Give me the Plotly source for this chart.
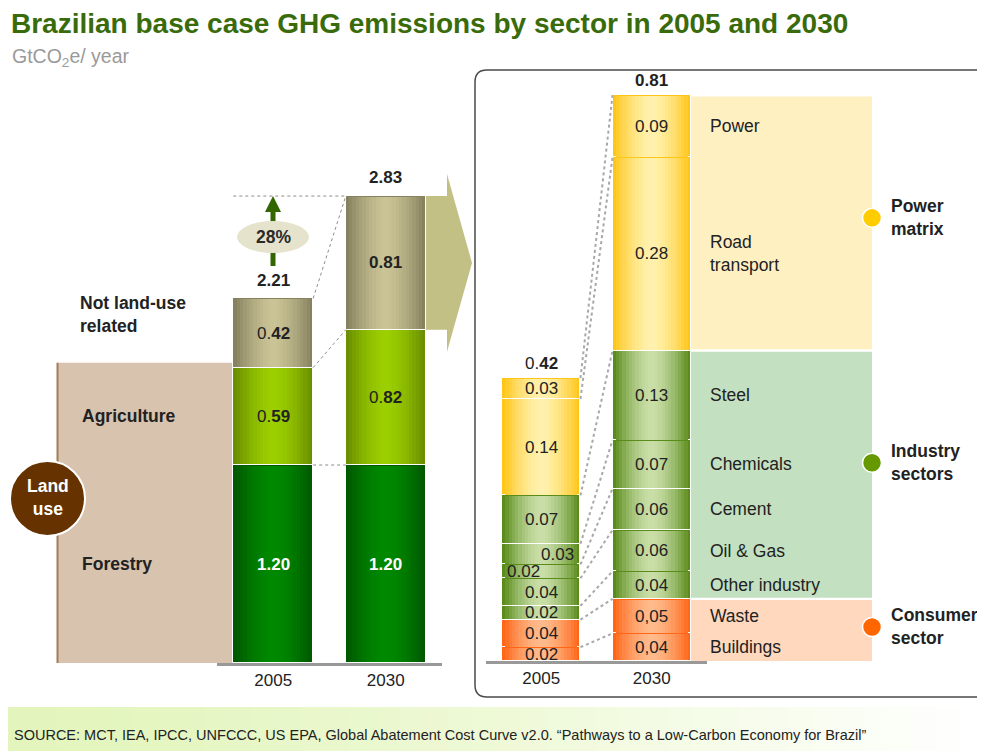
import plotly.graph_objects as go

# The page body has an 8px margin, so the figure is laid out in reference
# pixel coordinates shifted by that offset.
W, H = 985, 751
OX, OY = 8, 8
FW, FH = W - OX, H - OY

# ---------------- data ----------------
years = ["2005", "2030"]

left_segments = ["Forestry", "Agriculture", "Not land-use related"]
left_2005 = [1.20, 0.59, 0.42]
left_2030 = [1.20, 0.82, 0.81]
left_labels_2005 = ["<b>1.20</b>", "0.<b>59</b>", "0.<b>42</b>"]
left_labels_2030 = ["<b>1.20</b>", "0.<b>82</b>", "<b>0.81</b>"]
left_total_labels = ["2.21", "2.83"]
growth_label = "28%"

right_sectors = ["Buildings", "Waste", "Other industry", "Oil & Gas", "Cement",
                 "Chemicals", "Steel", "Road<br>transport", "Power"]
right_groups = ["Consumer", "Consumer", "Industry", "Industry", "Industry",
                "Industry", "Industry", "Power", "Power"]
right_2005 = [0.02, 0.04, 0.02, 0.04, 0.02, 0.03, 0.07, 0.14, 0.03]
right_2030 = [0.04, 0.05, 0.04, 0.06, 0.06, 0.07, 0.13, 0.28, 0.09]
right_labels_2005 = ["0.02", "0.04", "0.02", "0.04", "0.02", "0.03", "0.07", "0.14", "0.03"]
right_labels_2030 = ["0,04", "0,05", "0.04", "0.06", "0.06", "0.07", "0.13", "0.28", "0.09"]
right_total_labels = ["0.<b>42</b>", "<b>0.81</b>"]
group_names = ["Consumer", "Industry", "Power"]
group_titles = ["Consumer<br>sector", "Industry<br>sectors", "Power<br>matrix"]

title_text = "Brazilian base case GHG emissions by sector in 2005 and 2030"
unit_text = "GtCO<sub>2</sub>e/ year"
land_use_text = "Land<br>use"
source_text = ("SOURCE: MCT, IEA, IPCC, UNFCCC, US EPA, Global Abatement Cost Curve v2.0. "
               "\u201cPathways to a Low-Carbon Economy for Brazil\u201d")

# ---------------- styles ----------------
FONT = "Liberation Sans, Arial, sans-serif"
TXT = "#222222"
LEFT_COLORS = {"Forestry": ("#005800", "#008A00"),
               "Agriculture": ("#6A8F00", "#9DD000"),
               "Not land-use related": ("#86815F", "#CBC496")}
GROUP_COLORS = {"Power": ("#FFC61A", "#FFF2B0"),
                "Industry": ("#5A8C1C", "#CBE0AA"),
                "Consumer": ("#FF6618", "#FFBC8E")}
BAND_COLORS = {"Power": "#FFF0C2", "Industry": "#C3E0C0", "Consumer": "#FFD8BE"}
DOT_COLORS = {"Power": "#FFCC00", "Industry": "#669900", "Consumer": "#FF6600"}
GROUP_YSHIFT_PX = {"Power": 5, "Industry": 12, "Consumer": 3}
LABEL_XSHIFT_2005 = {4: -18, 5: 16}

L_BASE, L_SCALE, L_TOP = 663, 165.0, 150
R_BASE, R_SCALE, R_TOP = 661, 690.0, 70
BW = 0.71
NUM = 17
LBL = 17.5


def px(x):
    return (x - OX) / FW


def py(y):
    return 1 - (y - OY) / FH


def hex2rgb(h):
    h = h.lstrip("#")
    return tuple(int(h[i:i + 2], 16) for i in (0, 2, 4))


def mix(c1, c2, t):
    a, b = hex2rgb(c1), hex2rgb(c2)
    return "rgb(%d,%d,%d)" % tuple(round(a[i] + (b[i] - a[i]) * t) for i in range(3))


def cumbase(vals):
    out, s = [], 0.0
    for v in vals:
        out.append(s)
        s += v
    return out


fig = go.Figure()


def add_gradient_bars(xs, bases, vals, cols, xa, ya, eps, n=12):
    for k in range(n):
        w = 1 - k / n
        t = 1 - w ** 1.6
        colors = [mix(c[0], c[1], t) for c in cols]
        inset = 0 if k == 0 else eps
        fig.add_trace(go.Bar(
            x=xs, y=[v - 2 * inset for v in vals], base=[b + inset for b in bases],
            width=BW * w,
            marker=dict(color=colors, line=dict(color="white", width=1 if k == 0 else 0)),
            xaxis=xa, yaxis=ya, hoverinfo="skip", showlegend=False))


# ---- left chart bars ----
lb05, lb30 = cumbase(left_2005), cumbase(left_2030)
add_gradient_bars([0] * 3 + [1] * 3, lb05 + lb30, left_2005 + left_2030,
                  [LEFT_COLORS[s] for s in left_segments] * 2, "x", "y", 0.6 / L_SCALE)

# ---- right chart bars ----
rb05, rb30 = cumbase(right_2005), cumbase(right_2030)
add_gradient_bars([0] * 9 + [1] * 9, rb05 + rb30, right_2005 + right_2030,
                  [GROUP_COLORS[g] for g in right_groups] * 2, "x2", "y2", 0.6 / R_SCALE)

# ---- connector lines (left) ----
l_tops05 = [b + v for b, v in zip(lb05, left_2005)]
l_tops30 = [b + v for b, v in zip(lb30, left_2030)]
for a, b in zip(l_tops05, l_tops30):
    fig.add_trace(go.Scatter(x=[BW / 2, 1 - BW / 2], y=[a, b], mode="lines",
                             line=dict(color="#8C8C8C", width=1, dash="dot"),
                             xaxis="x", yaxis="y", hoverinfo="skip", showlegend=False))
fig.add_trace(go.Scatter(x=[-BW / 2, 1 - BW / 2], y=[l_tops30[-1]] * 2, mode="lines",
                         line=dict(color="#8C8C8C", width=1, dash="dot"),
                         xaxis="x", yaxis="y", hoverinfo="skip", showlegend=False))

# ---- connector lines (right) ----
r_tops05 = [b + v for b, v in zip(rb05, right_2005)]
r_tops30 = [b + v for b, v in zip(rb30, right_2030)]
for a, b in zip(r_tops05, r_tops30):
    fig.add_trace(go.Scatter(x=[BW / 2, 1 - BW / 2], y=[a, b], mode="lines",
                             line=dict(color="#A8A8A8", width=2, dash="dot"),
                             xaxis="x2", yaxis="y2", hoverinfo="skip", showlegend=False))

shapes = []
annotations = []


def ann(text, x, y, xref="paper", yref="paper", size=16, color=TXT, xanchor="center",
        yanchor="middle", align="center", xshift=0, yshift=0):
    annotations.append(dict(text=text, x=x, y=y, xref=xref, yref=yref, showarrow=False,
                            font=dict(family=FONT, size=size, color=color),
                            xanchor=xanchor, yanchor=yanchor, align=align,
                            xshift=xshift, yshift=yshift))


# footer gradient band
NSTRIP = 40
for i in range(NSTRIP):
    xa = OX + (W - OX) * i / NSTRIP
    xb = OX + (W - OX) * (i + 1) / NSTRIP + 1
    shapes.append(dict(type="rect", xref="paper", yref="paper",
                       x0=px(xa), x1=px(xb), y0=py(751), y1=py(707), line=dict(width=0),
                       fillcolor=mix("#E3F5BC", "#FFFFFF", (i / (NSTRIP - 1)) ** 1.3),
                       layer="below"))

# rounded frame of the right panel
r = 12
x0, y0, y1 = 475, 70, 697
path = (f"M {px(W + 10)},{py(y0)} L {px(x0 + r)},{py(y0)} Q {px(x0)},{py(y0)} {px(x0)},{py(y0 + r)} "
        f"L {px(x0)},{py(y1 - r)} Q {px(x0)},{py(y1)} {px(x0 + r)},{py(y1)} L {px(W + 10)},{py(y1)}")
shapes.append(dict(type="path", path=path, xref="paper", yref="paper",
                   line=dict(color="#4A4A4A", width=1.5), layer="below"))

# land-use background
land_top = sum(left_2005[:2]) + 0.03
shapes.append(dict(type="rect", xref="paper", yref="y", x0=px(57), x1=px(233),
                   y0=0, y1=land_top, fillcolor="#D8C3AF", line=dict(width=0), layer="below"))
shapes.append(dict(type="line", xref="paper", yref="y", x0=px(57.5), x1=px(57.5),
                   y0=0, y1=land_top, line=dict(color="#A47C58", width=2), layer="below"))

# chevron arrow
top30, bot30 = l_tops30[-1], lb30[-1]
ext = 22 / L_SCALE
mid = (top30 + bot30) / 2
chev = (f"M {px(426)},{bot30} L {px(426)},{top30} L {px(447)},{top30} L {px(447)},{top30 + ext} "
        f"L {px(472)},{mid} L {px(447)},{bot30 - ext} L {px(447)},{bot30} Z")
shapes.append(dict(type="path", path=chev, xref="paper", yref="y",
                   fillcolor="#C2C084", line=dict(width=0), layer="below"))

# growth arrow + ellipse
shapes.append(dict(type="line", xref="paper", yref="paper", x0=px(273), x1=px(273),
                   y0=py(266), y1=py(208), line=dict(color="#336600", width=5), layer="above"))
shapes.append(dict(type="path", xref="paper", yref="paper",
                   path=f"M {px(273)},{py(196)} L {px(281)},{py(212)} L {px(265)},{py(212)} Z",
                   fillcolor="#336600", line=dict(width=0), layer="above"))
shapes.append(dict(type="circle", xref="paper", yref="paper", x0=px(237), x1=px(309),
                   y0=py(253), y1=py(221), fillcolor="#E5E3CC", line=dict(width=0), layer="above"))
ann(f"<b>{growth_label}</b>", px(273), py(237), size=17.5, color="#2A2A2A")

# land use circle
shapes.append(dict(type="circle", xref="paper", yref="paper", x0=px(10), x1=px(85),
                   y0=py(536), y1=py(461), fillcolor="#663300",
                   line=dict(color="white", width=2), layer="above"))
ann(f"<b>{land_use_text}</b>", px(47.5), py(498), size=17.5, color="white")

# right bands + group dots / titles
for gi, g in enumerate(group_names):
    idx = [i for i, gg in enumerate(right_groups) if gg == g]
    ylo, yhi = rb30[idx[0]], r_tops30[idx[-1]]
    e = 1.2 / R_SCALE
    shapes.append(dict(type="rect", xref="paper", yref="y2", x0=px(691), x1=px(872),
                       y0=ylo + (e if gi > 0 else 0), y1=yhi - e,
                       fillcolor=BAND_COLORS[g], line=dict(width=0), layer="below"))
    ymid = (ylo + yhi) / 2 + GROUP_YSHIFT_PX[g] / R_SCALE
    shapes.append(dict(type="circle", xref="paper", yref="y2", xsizemode="pixel",
                       ysizemode="pixel", xanchor=px(872), yanchor=ymid,
                       x0=-9.5, x1=9.5, y0=-9.5, y1=9.5, fillcolor=DOT_COLORS[g],
                       line=dict(color="white", width=1.5), layer="above"))
    ann(f"<b>{group_titles[gi]}</b>", px(889), ymid, yref="y2", xanchor="left",
        align="left", size=LBL)

# sector names
for i, s in enumerate(right_sectors):
    ann(s, px(708), rb30[i] + right_2030[i] / 2, yref="y2", xanchor="left",
        align="left", size=LBL)

# bar value labels (left)
for i in range(3):
    col = "white" if i == 0 else TXT
    ann(left_labels_2005[i], 0, lb05[i] + left_2005[i] / 2, xref="x", yref="y", size=NUM, color=col)
    ann(left_labels_2030[i], 1, lb30[i] + left_2030[i] / 2, xref="x", yref="y", size=NUM, color=col)
ann(f"<b>{left_total_labels[0]}</b>", 0, l_tops05[-1], xref="x", yref="y", size=NUM, yshift=18)
ann(f"<b>{left_total_labels[1]}</b>", 1, l_tops30[-1], xref="x", yref="y", size=NUM, yshift=19)

# left row labels
ann("<b>Not land-use<br>related</b>", px(78), py(315), xanchor="left", align="left", size=LBL)
ann("<b>Agriculture</b>", px(80), lb05[1] + left_2005[1] / 2, yref="y", xanchor="left", size=LBL)
ann("<b>Forestry</b>", px(80), lb05[0] + left_2005[0] / 2, yref="y", xanchor="left", size=LBL)

# bar value labels (right)
for i in range(9):
    ann(right_labels_2005[i], 0, rb05[i] + right_2005[i] / 2, xref="x2", yref="y2",
        xshift=LABEL_XSHIFT_2005.get(i, 0), size=NUM)
    ann(right_labels_2030[i], 1, rb30[i] + right_2030[i] / 2, xref="x2", yref="y2", size=NUM)
ann(right_total_labels[0], 0, r_tops05[-1], xref="x2", yref="y2", yshift=15, size=NUM)
ann(right_total_labels[1], 1, r_tops30[-1], xref="x2", yref="y2", yshift=15, size=NUM)

# titles and source
ann(f"<b>{title_text}</b>", px(9), py(23), xanchor="left", size=28, color="#3A6B0A")
ann(unit_text, px(10), py(57), xanchor="left", size=19.5, color="#9A9A9A")
ann(source_text, px(12), py(735), xanchor="left", size=14.5, color="#222222")

axis_common = dict(range=[-0.5, 1.5], tickvals=[0, 1], ticktext=years, showgrid=False,
                   zeroline=False, showline=True, linecolor="#999999", linewidth=3,
                   ticks="", tickfont=dict(family=FONT, size=17, color=TXT), fixedrange=True)
fig.update_layout(
    width=FW, height=FH, autosize=False,
    margin=dict(l=0, r=0, t=0, b=0),
    paper_bgcolor="white", plot_bgcolor="rgba(0,0,0,0)",
    barmode="overlay", bargap=0, showlegend=False,
    font=dict(family=FONT, color=TXT),
    xaxis=dict(domain=[px(217), px(442)], anchor="y", **axis_common),
    yaxis=dict(domain=[py(L_BASE), py(L_TOP)], range=[0, (L_BASE - L_TOP) / L_SCALE],
               visible=False, fixedrange=True, anchor="x"),
    xaxis2=dict(domain=[px(486), px(707)], anchor="y2", **axis_common),
    yaxis2=dict(domain=[py(R_BASE), py(R_TOP)], range=[0, (R_BASE - R_TOP) / R_SCALE],
                visible=False, fixedrange=True, anchor="x2"),
    shapes=shapes, annotations=annotations,
)

fig.write_html("out.html")
